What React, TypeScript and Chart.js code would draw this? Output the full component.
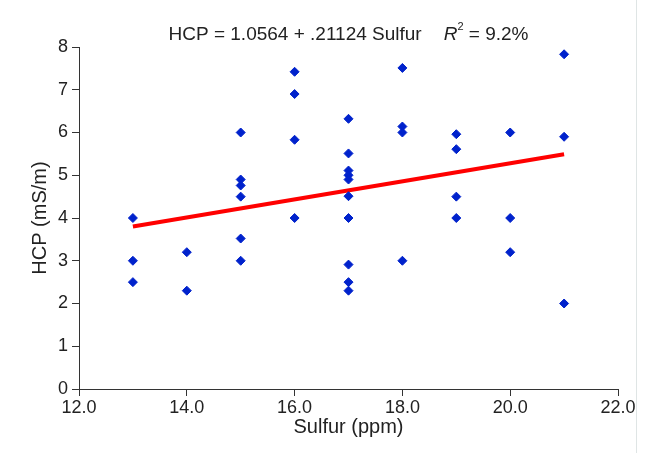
import React, { useEffect, useRef } from "react";
import { Chart, registerables } from "chart.js";

Chart.register(...registerables);

const sulfurX: number[] = [
  13, 13, 13,
  14, 14,
  15, 15, 15, 15, 15, 15,
  16, 16, 16, 16,
  17, 17, 17, 17, 17, 17, 17, 17, 17, 17,
  18, 18, 18, 18,
  19, 19, 19, 19,
  20, 20, 20,
  21, 21, 21,
];
const hcpY: number[] = [
  4.0, 3.0, 2.5,
  3.2, 2.3,
  6.0, 4.9, 4.76, 4.5, 3.52, 3.0,
  7.42, 6.9, 5.83, 4.0,
  6.32, 5.51, 5.11, 5.0, 4.9, 4.51, 4.0, 2.91, 2.5, 2.3,
  7.51, 6.14, 6.0, 3.0,
  5.96, 5.61, 4.5, 4.0,
  6.0, 4.0, 3.2,
  7.83, 5.9, 2.0,
];
const fitX: number[] = [13, 21];
const fitY: number[] = [3.8, 5.49];

const xTicks: number[] = [12, 14, 16, 18, 20, 22];
const yTicks: number[] = [0, 1, 2, 3, 4, 5, 6, 7, 8];

const titleMain = "HCP = 1.0564 + .21124 Sulfur";
const titleR = "R";
const titleSup = "2";
const titleTail = " = 9.2%";
const xTitle = "Sulfur (ppm)";
const yTitle = "HCP (mS/m)";

const FONT = "'Liberation Sans', Arial, sans-serif";
const TEXT = "#222222";

const annotate = {
  id: "annotate",
  afterDraw(chart: any) {
    const ctx = chart.ctx as CanvasRenderingContext2D;
    const area = chart.chartArea;
    ctx.save();
    ctx.fillStyle = TEXT;
    ctx.textBaseline = "alphabetic";
    // title
    ctx.font = `19px ${FONT}`;
    const w1 = ctx.measureText(titleMain).width;
    const gap = 22;
    ctx.font = `italic 19px ${FONT}`;
    const wR = ctx.measureText(titleR).width;
    ctx.font = `11px ${FONT}`;
    const wS = ctx.measureText(titleSup).width;
    ctx.font = `19px ${FONT}`;
    const wT = ctx.measureText(titleTail).width;
    const total = w1 + gap + wR + wS + wT;
    let x = (area.left + area.right) / 2 - total / 2;
    const by = 40;
    ctx.textAlign = "left";
    ctx.fillText(titleMain, x, by);
    x += w1 + gap;
    ctx.font = `italic 19px ${FONT}`;
    ctx.fillText(titleR, x, by);
    x += wR;
    ctx.font = `11px ${FONT}`;
    ctx.fillText(titleSup, x, by - 10);
    x += wS;
    ctx.font = `19px ${FONT}`;
    ctx.fillText(titleTail, x, by);

    // axis titles
    ctx.font = `20px ${FONT}`;
    ctx.textAlign = "center";
    ctx.textBaseline = "alphabetic";
    ctx.fillText(xTitle, (area.left + area.right) / 2, 433);
    ctx.save();
    ctx.translate(46, (area.top + area.bottom) / 2);
    ctx.rotate(-Math.PI / 2);
    ctx.fillText(yTitle, 0, 0);
    ctx.restore();

    // right frame line
    ctx.strokeStyle = "#dfe5e5";
    ctx.lineWidth = 1;
    ctx.beginPath();
    ctx.moveTo(636.5, 0);
    ctx.lineTo(636.5, chart.height);
    ctx.stroke();
    ctx.restore();
  },
};

export default function App() {
  const ref = useRef<HTMLCanvasElement | null>(null);
  useEffect(() => {
    if (!ref.current) return;
    const points = sulfurX.map((x, i) => ({ x, y: hcpY[i] }));
    const fit = fitX.map((x, i) => ({ x, y: fitY[i] }));
    const chart = new Chart(ref.current, {
      type: "scatter",
      data: {
        datasets: [
          {
            type: "line",
            label: "Fit",
            data: fit,
            borderColor: "#ff0000",
            borderWidth: 4,
            pointRadius: 0,
            fill: false,
            order: 2,
          } as any,
          {
            label: "HCP",
            data: points,
            pointStyle: "rectRot",
            pointRadius: 4.5,
            backgroundColor: "#0022cc",
            borderColor: "#0022cc",
            borderWidth: 1,
            order: 1,
          },
        ],
      },
      plugins: [annotate],
      options: {
        responsive: false,
        animation: false,
        layout: { padding: { left: 0, right: 29, top: 47, bottom: 0 } },
        plugins: {
          legend: { display: false },
          tooltip: { enabled: false },
          title: { display: false },
        },
        scales: {
          x: {
            type: "linear",
            min: 12,
            max: 22,
            afterFit: (s: any) => {
              s.height = 64;
            },
            afterBuildTicks: (s: any) => {
              s.ticks = xTicks.map((v) => ({ value: v }));
            },
            ticks: {
              color: TEXT,
              font: { family: FONT, size: 18 },
              padding: 1,
              maxRotation: 0,
              callback: (v: any) => Number(v).toFixed(1),
            },
            grid: {
              display: true,
              drawOnChartArea: false,
              drawTicks: true,
              tickLength: 7,
              color: "#333333",
            },
            border: { display: true, color: "#333333", width: 1 },
          },
          y: {
            type: "linear",
            min: 0,
            max: 8,
            afterFit: (s: any) => {
              s.width = 79;
            },
            afterBuildTicks: (s: any) => {
              s.ticks = yTicks.map((v) => ({ value: v }));
            },
            ticks: {
              color: TEXT,
              font: { family: FONT, size: 18 },
              padding: 4,
              callback: (v: any) => String(v),
            },
            grid: {
              display: true,
              drawOnChartArea: false,
              drawTicks: true,
              tickLength: 7,
              color: "#333333",
            },
            border: { display: true, color: "#333333", width: 1 },
          },
        },
      },
    });
    return () => chart.destroy();
  }, []);
  return (
    <div style={{ position: "absolute", left: 0, top: 0, width: 647, height: 453, background: "#fff" }}>
      <canvas ref={ref} width={647} height={453} style={{ display: "block" }} />
    </div>
  );
}
